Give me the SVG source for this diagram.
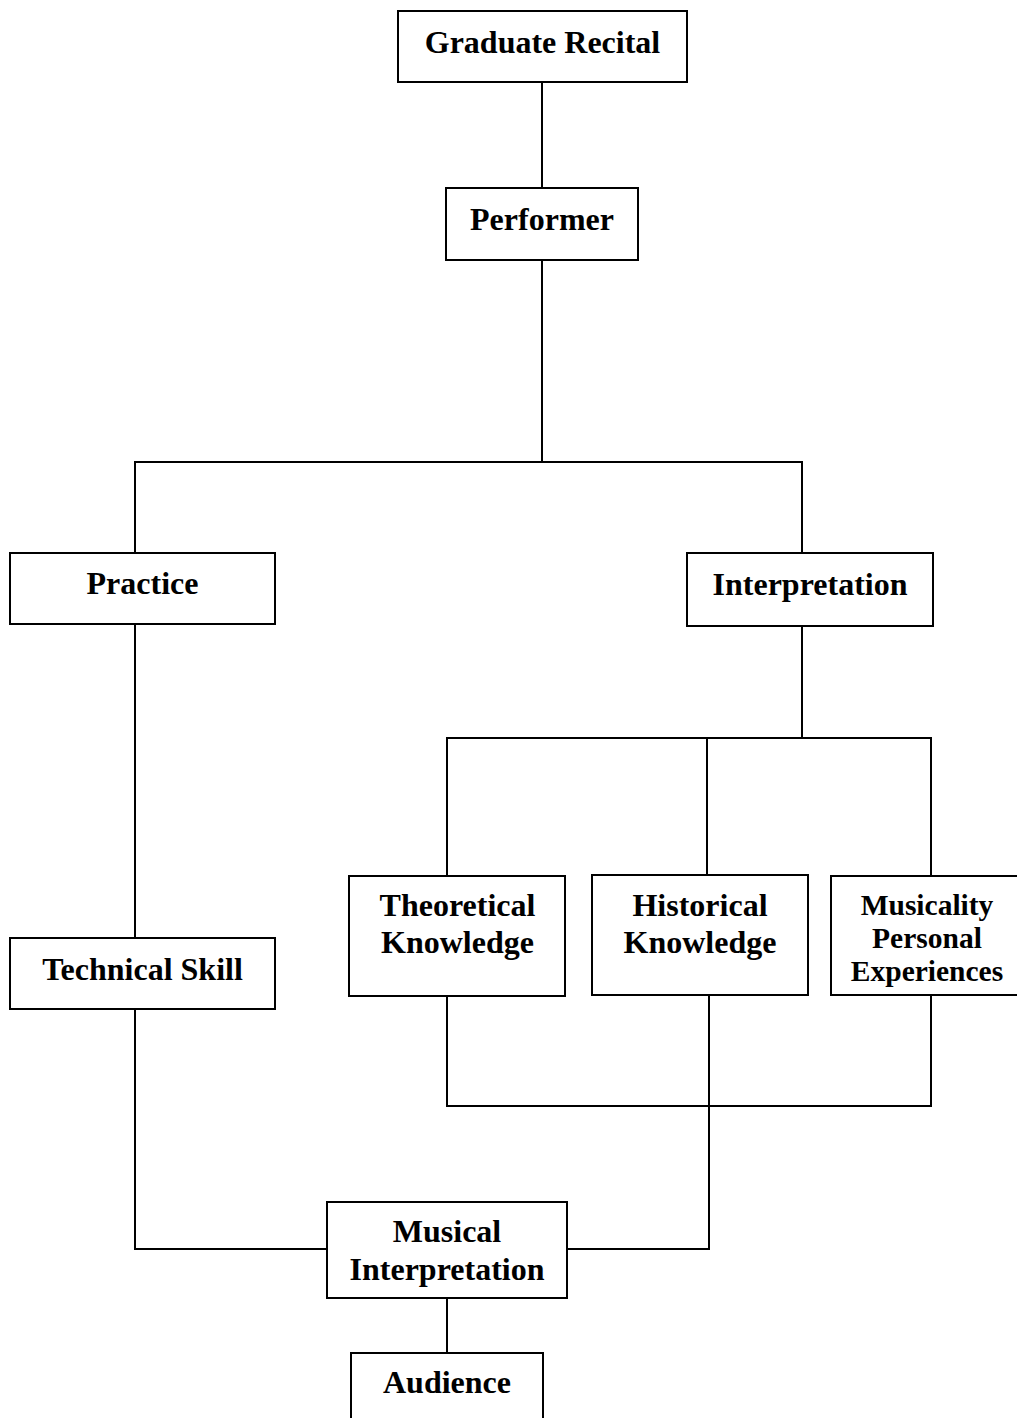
<svg xmlns="http://www.w3.org/2000/svg" width="1017" height="1418" viewBox="0 0 1017 1418">
<style>
.box{fill:#fff;stroke:#000;stroke-width:2}
.ln{fill:none;stroke:#000;stroke-width:2}
text{font-family:"Liberation Serif","Times New Roman",serif;font-weight:bold;font-size:32px;text-anchor:middle;fill:#000}
.sm{font-size:29.5px}
</style>
<rect width="1017" height="1418" fill="#fff"/>
<g id="connectors">
<line class="ln" x1="542" y1="82" x2="542" y2="188"/>
<line class="ln" x1="542" y1="260" x2="542" y2="462"/>
<polyline class="ln" points="135,553 135,462 802,462 802,553"/>
<line class="ln" x1="135" y1="624" x2="135" y2="938"/>
<line class="ln" x1="802" y1="626" x2="802" y2="738"/>
<polyline class="ln" points="447,876 447,738 931,738 931,876"/>
<line class="ln" x1="707" y1="738" x2="707" y2="875"/>
<polyline class="ln" points="447,996 447,1106 931,1106 931,995"/>
<polyline class="ln" points="709,995 709,1249 567,1249"/>
<polyline class="ln" points="135,1009 135,1249 327,1249"/>
<line class="ln" x1="447" y1="1298" x2="447" y2="1353"/>
</g>
<g id="graduate-recital">
<rect class="box" x="398" y="11" width="289" height="71"/>
<text x="542.5" y="53">Graduate Recital</text>
</g>
<g id="performer">
<rect class="box" x="446" y="188" width="192" height="72"/>
<text x="542" y="230">Performer</text>
</g>
<g id="practice">
<rect class="box" x="10" y="553" width="265" height="71"/>
<text x="142.5" y="594">Practice</text>
</g>
<g id="interpretation">
<rect class="box" x="687" y="553" width="246" height="73"/>
<text x="810" y="595">Interpretation</text>
</g>
<g id="theoretical-knowledge">
<rect class="box" x="349" y="876" width="216" height="120"/>
<text x="457.5" y="916">Theoretical</text>
<text x="457.5" y="953">Knowledge</text>
</g>
<g id="historical-knowledge">
<rect class="box" x="592" y="875" width="216" height="120"/>
<text x="700" y="916">Historical</text>
<text x="700" y="953">Knowledge</text>
</g>
<g id="musicality-personal-experiences">
<rect class="box" x="831" y="876" width="200" height="119"/>
<text class="sm" x="927" y="915">Musicality</text>
<text class="sm" x="927" y="948">Personal</text>
<text class="sm" x="927" y="981">Experiences</text>
</g>
<g id="technical-skill">
<rect class="box" x="10" y="938" width="265" height="71"/>
<text x="142.5" y="980">Technical Skill</text>
</g>
<g id="musical-interpretation">
<rect class="box" x="327" y="1202" width="240" height="96"/>
<text x="447" y="1242">Musical</text>
<text x="447" y="1280">Interpretation</text>
</g>
<g id="audience">
<rect class="box" x="351" y="1353" width="192" height="80"/>
<text x="447" y="1393">Audience</text>
</g>
</svg>
